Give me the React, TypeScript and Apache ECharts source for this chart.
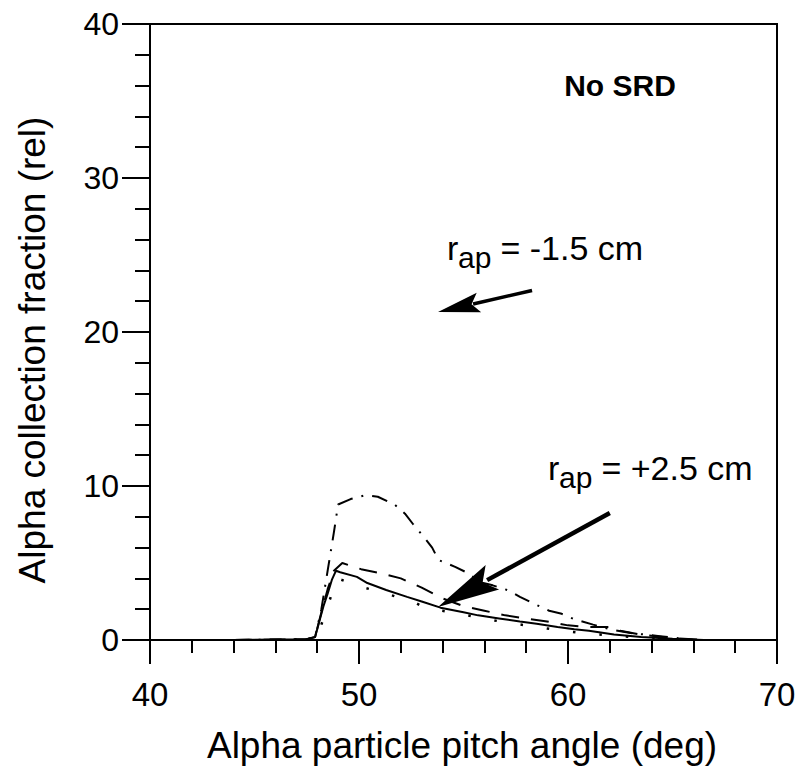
import React, { useEffect, useRef } from "react";
import * as echarts from "echarts";

// ---- data ----
const solidAngle = [44, 47.5, 47.9, 48.1, 48.3, 48.5, 48.7, 48.9, 49.1, 49.9, 50.4, 51.3, 52.3, 53.0, 53.9, 55.0, 55.7, 56.7, 57.7, 58.5, 59.5, 60.3, 61.0, 62.2, 63.5, 65.0, 66.5];
const solidValue = [0, 0.05, 0.2, 1.2, 2.2, 3.0, 3.9, 4.5, 4.4, 4.1, 3.7, 3.25, 2.8, 2.5, 2.1, 1.8, 1.6, 1.4, 1.2, 1.05, 0.85, 0.7, 0.6, 0.35, 0.2, 0.08, 0];

const dashedAngle = [44, 47.5, 47.9, 48.2, 48.5, 48.8, 49.2, 50.1, 51.0, 52.0, 53.0, 54.0, 55.0, 56.0, 57.0, 58.0, 59.0, 60.0, 61.0, 62.0, 62.5, 63.5, 65.0, 66.5];
const dashedValue = [0, 0.05, 0.2, 1.8, 3.3, 4.5, 5.0, 4.6, 4.35, 4.0, 3.4, 2.7, 2.2, 1.9, 1.6, 1.4, 1.2, 0.95, 0.85, 0.85, 0.6, 0.35, 0.12, 0];

const dashDotAngle = [44, 47.5, 47.9, 48.2, 48.5, 48.8, 49.0, 49.6, 50.3, 50.9, 51.7, 52.2, 52.6, 53.1, 53.5, 53.8, 54.6, 55.2, 55.8, 56.4, 57.2, 57.7, 58.3, 59.1, 59.7, 60.3, 61.2, 62.0, 63.0, 64.4, 66.0];
const dashDotValue = [0, 0.05, 0.2, 2.0, 4.5, 7.0, 8.8, 9.15, 9.4, 9.3, 8.8, 8.2, 7.5, 6.7, 6.0, 5.2, 4.75, 4.35, 3.75, 3.55, 3.2, 2.8, 2.4, 1.9, 1.7, 1.35, 1.0, 0.7, 0.45, 0.25, 0];

const dottedAngle = [48.2, 48.7, 48.97, 50.1, 51.4, 52.7, 53.2, 54.6, 55.2, 55.9, 57.0, 58.0, 59.0, 60.0, 61.0, 62.0, 63.5, 65.0];
const dottedValue = [1.0, 3.0, 4.0, 3.46, 2.97, 2.42, 2.06, 1.77, 1.6, 1.4, 1.15, 0.95, 0.75, 0.55, 0.4, 0.3, 0.15, 0.05];

const xMin = 40, xMax = 70, xStep = 10;
const yMin = 0, yMax = 40, yStep = 10;

// annotation arrows in data space: [tail, head]
const arrowMinus = [[58.28, 22.7], [53.78, 21.3]];
const arrowPlus = [[62.0, 8.25], [53.78, 2.14]];

const FONT = "'Liberation Sans', Arial, Helvetica, sans-serif";

const zip = (a: number[], b: number[]) => a.map((v, i) => [v, b[i]]);

function arrowGraphics(tail: number[], head: number[], lw: number, hl: number, hw: number) {
  const dx = head[0] - tail[0], dy = head[1] - tail[1];
  const len = Math.sqrt(dx * dx + dy * dy);
  const ux = dx / len, uy = dy / len;
  const px = -uy, py = ux;
  const bx = head[0] - ux * hl, by = head[1] - uy * hl;
  return [
    {
      type: "line",
      shape: { x1: tail[0], y1: tail[1], x2: bx + ux * 6, y2: by + uy * 6 },
      style: { stroke: "#000", lineWidth: lw },
    },
    {
      type: "polygon",
      shape: {
        points: [
          [head[0], head[1]],
          [bx + px * hw / 2, by + py * hw / 2],
          [bx + ux * hl * 0.18, by + uy * hl * 0.18],
          [bx - px * hw / 2, by - py * hw / 2],
        ],
      },
      style: { fill: "#000" },
    },
  ];
}

export default function App() {
  const ref = useRef<HTMLDivElement>(null);
  useEffect(() => {
    if (!ref.current) return;
    const chart = echarts.init(ref.current, null, { renderer: "svg" });
    const lineBase = { type: "line", showSymbol: false, symbol: "none", smooth: false, silent: true };
    chart.setOption({
      animation: false,
      backgroundColor: "#fff",
      grid: {
        left: 150, top: 24, width: 627, height: 616,
        containLabel: false, outerBoundsMode: "none",
        show: true, borderColor: "#000", borderWidth: 2,
      },
      xAxis: {
        type: "value", min: xMin, max: xMax, interval: xStep,
        axisLine: { lineStyle: { color: "#000", width: 2 } },
        axisTick: { length: 24, lineStyle: { color: "#000", width: 2 } },
        minorTick: { show: true, splitNumber: 5, length: 13, lineStyle: { color: "#000", width: 2 } },
        splitLine: { show: false },
        minorSplitLine: { show: false },
        axisLabel: { fontSize: 33, color: "#000", margin: 38, fontFamily: FONT },
      },
      yAxis: {
        type: "value", min: yMin, max: yMax, interval: yStep,
        axisLine: { lineStyle: { color: "#000", width: 2 } },
        axisTick: { length: 28, lineStyle: { color: "#000", width: 2 } },
        minorTick: { show: true, splitNumber: 5, length: 15, lineStyle: { color: "#000", width: 2 } },
        splitLine: { show: false },
        minorSplitLine: { show: false },
        axisLabel: { fontSize: 32, color: "#000", margin: 31, fontFamily: FONT },
      },
      series: [
        { ...lineBase, name: "solid", data: zip(solidAngle, solidValue), lineStyle: { color: "#000", width: 2, type: "solid" } },
        { ...lineBase, name: "dashed", data: zip(dashedAngle, dashedValue), lineStyle: { color: "#000", width: 2, type: [18, 12] } },
        { ...lineBase, name: "dash-dot", data: zip(dashDotAngle, dashDotValue), lineStyle: { color: "#000", width: 2, type: [16, 9, 2, 9] } },
        { ...lineBase, name: "dotted", data: zip(dottedAngle, dottedValue), lineStyle: { color: "#000", width: 2.5, type: [2.5, 24] } },
      ],
    });

    const toPx = (p: number[]) => chart.convertToPixel({ gridIndex: 0 }, p) as number[];
    const a1 = arrowGraphics(toPx(arrowMinus[0]), toPx(arrowMinus[1]), 3.5, 42, 20);
    const a2 = arrowGraphics(toPx(arrowPlus[0]), toPx(arrowPlus[1]), 4.5, 62, 28);

    const txt = (text: string, x: number, y: number, size: number, extra: any = {}) => ({
      type: "text", x, y,
      style: { text, fontSize: size, fontFamily: FONT, fill: "#000", align: "left", verticalAlign: "middle", ...extra },
    });

    chart.setOption({
      graphic: [
        ...a1,
        ...a2,
        txt("No SRD", 620, 85, 30, { fontWeight: "bold", align: "center" }),
        txt("r", 447, 248, 34),
        txt("ap", 458, 257, 30),
        txt(" = -1.5 cm", 491, 248, 34),
        txt("r", 548, 468, 34),
        txt("ap", 559, 477, 30),
        txt(" = +2.5 cm", 592, 468, 34),
        txt("Alpha particle pitch angle (deg)", 462, 745, 37, { align: "center" }),
        {
          type: "text", x: 32, y: 350, rotation: Math.PI / 2,
          style: { text: "Alpha collection fraction (rel)", fontSize: 37, fontFamily: FONT, fill: "#000", align: "center", verticalAlign: "middle" },
        },
      ],
    });

    return () => chart.dispose();
  }, []);
  return <div ref={ref} style={{ position: "fixed", left: 0, top: 0, width: 803, height: 772, background: "#fff" }} />;
}
